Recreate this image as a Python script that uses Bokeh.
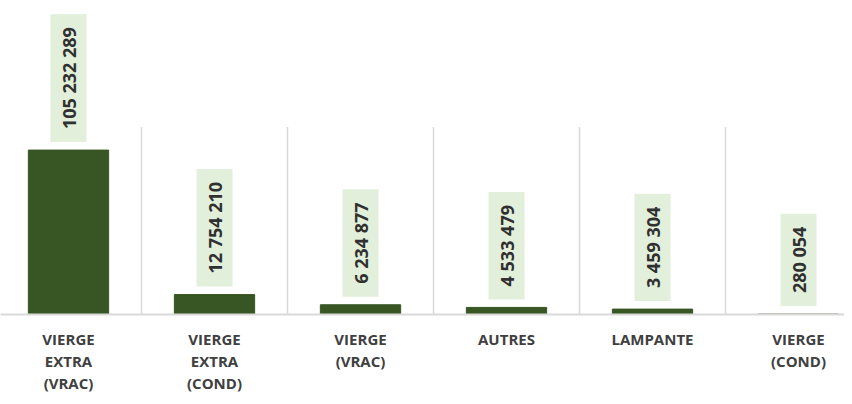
import math
from bokeh.plotting import figure
from bokeh.models import ColumnDataSource, Range1d, FixedTicker
from bokeh.core.properties import value
from bokeh.embed import file_html
from bokeh.resources import INLINE

categories = ["VIERGE\nEXTRA\n(VRAC)", "VIERGE\nEXTRA\n(COND)", "VIERGE\n(VRAC)",
              "AUTRES", "LAMPANTE", "VIERGE\n(COND)"]
values = [105232289, 12754210, 6234877, 4533479, 3459304, 280054]
labels = ["105 232 289", "12 754 210", "6 234 877", "4 533 479", "3 459 304", "280 054"]

xs = list(range(len(categories)))
src = ColumnDataSource(dict(x=xs, top=values, label=labels))

W, H, BOTTOM = 844, 396, 79
p = figure(width=W, height=H, output_backend="svg", toolbar_location=None,
           x_range=Range1d(-68 / 146, -68 / 146 + W / 146), y_range=Range1d(0, 201e6),
           min_border_left=0, min_border_right=0, min_border_top=0, min_border_bottom=BOTTOM)
p.outline_line_color = None
p.background_fill_color = "white"
p.border_fill_color = "white"
p.ygrid.visible = False
p.xgrid.visible = False
p.yaxis.visible = False

# separators between categories
sep_x = [i + 0.5 for i in xs[:-1]]
p.segment(x0=sep_x, y0=[0] * len(sep_x), x1=sep_x, y1=[120e6] * len(sep_x),
          line_color="#d9d9d9", line_width=1.5)

p.vbar(x="x", top="top", width=0.55, bottom=0, source=src,
       fill_color="#375623", line_color="#375623")

p.text(x="x", y="top", text="label", source=src, angle=math.pi / 2,
       text_align="left", text_baseline="middle", y_offset=-8,
       text_font=value("Open Sans"), text_font_style="bold", text_font_size="18px",
       text_color="#303030", background_fill_color="#e2efda",
       padding=dict(left=13, right=13, top=6, bottom=6))

ax = p.xaxis[0]
ax.ticker = FixedTicker(ticks=xs)
ax.major_label_overrides = {i: c for i, c in zip(xs, categories)}
ax.axis_line_color = "#d9d9d9"
ax.axis_line_width = 2
ax.major_tick_line_color = None
ax.minor_tick_line_color = None
ax.major_label_standoff = 8
ax.major_label_text_font = "Open Sans"
ax.major_label_text_font_style = "bold"
ax.major_label_text_font_size = "15px"
ax.major_label_text_color = "#404040"
ax.major_label_text_line_height = 1.12

open("out.html", "w").write(file_html(p, INLINE))
